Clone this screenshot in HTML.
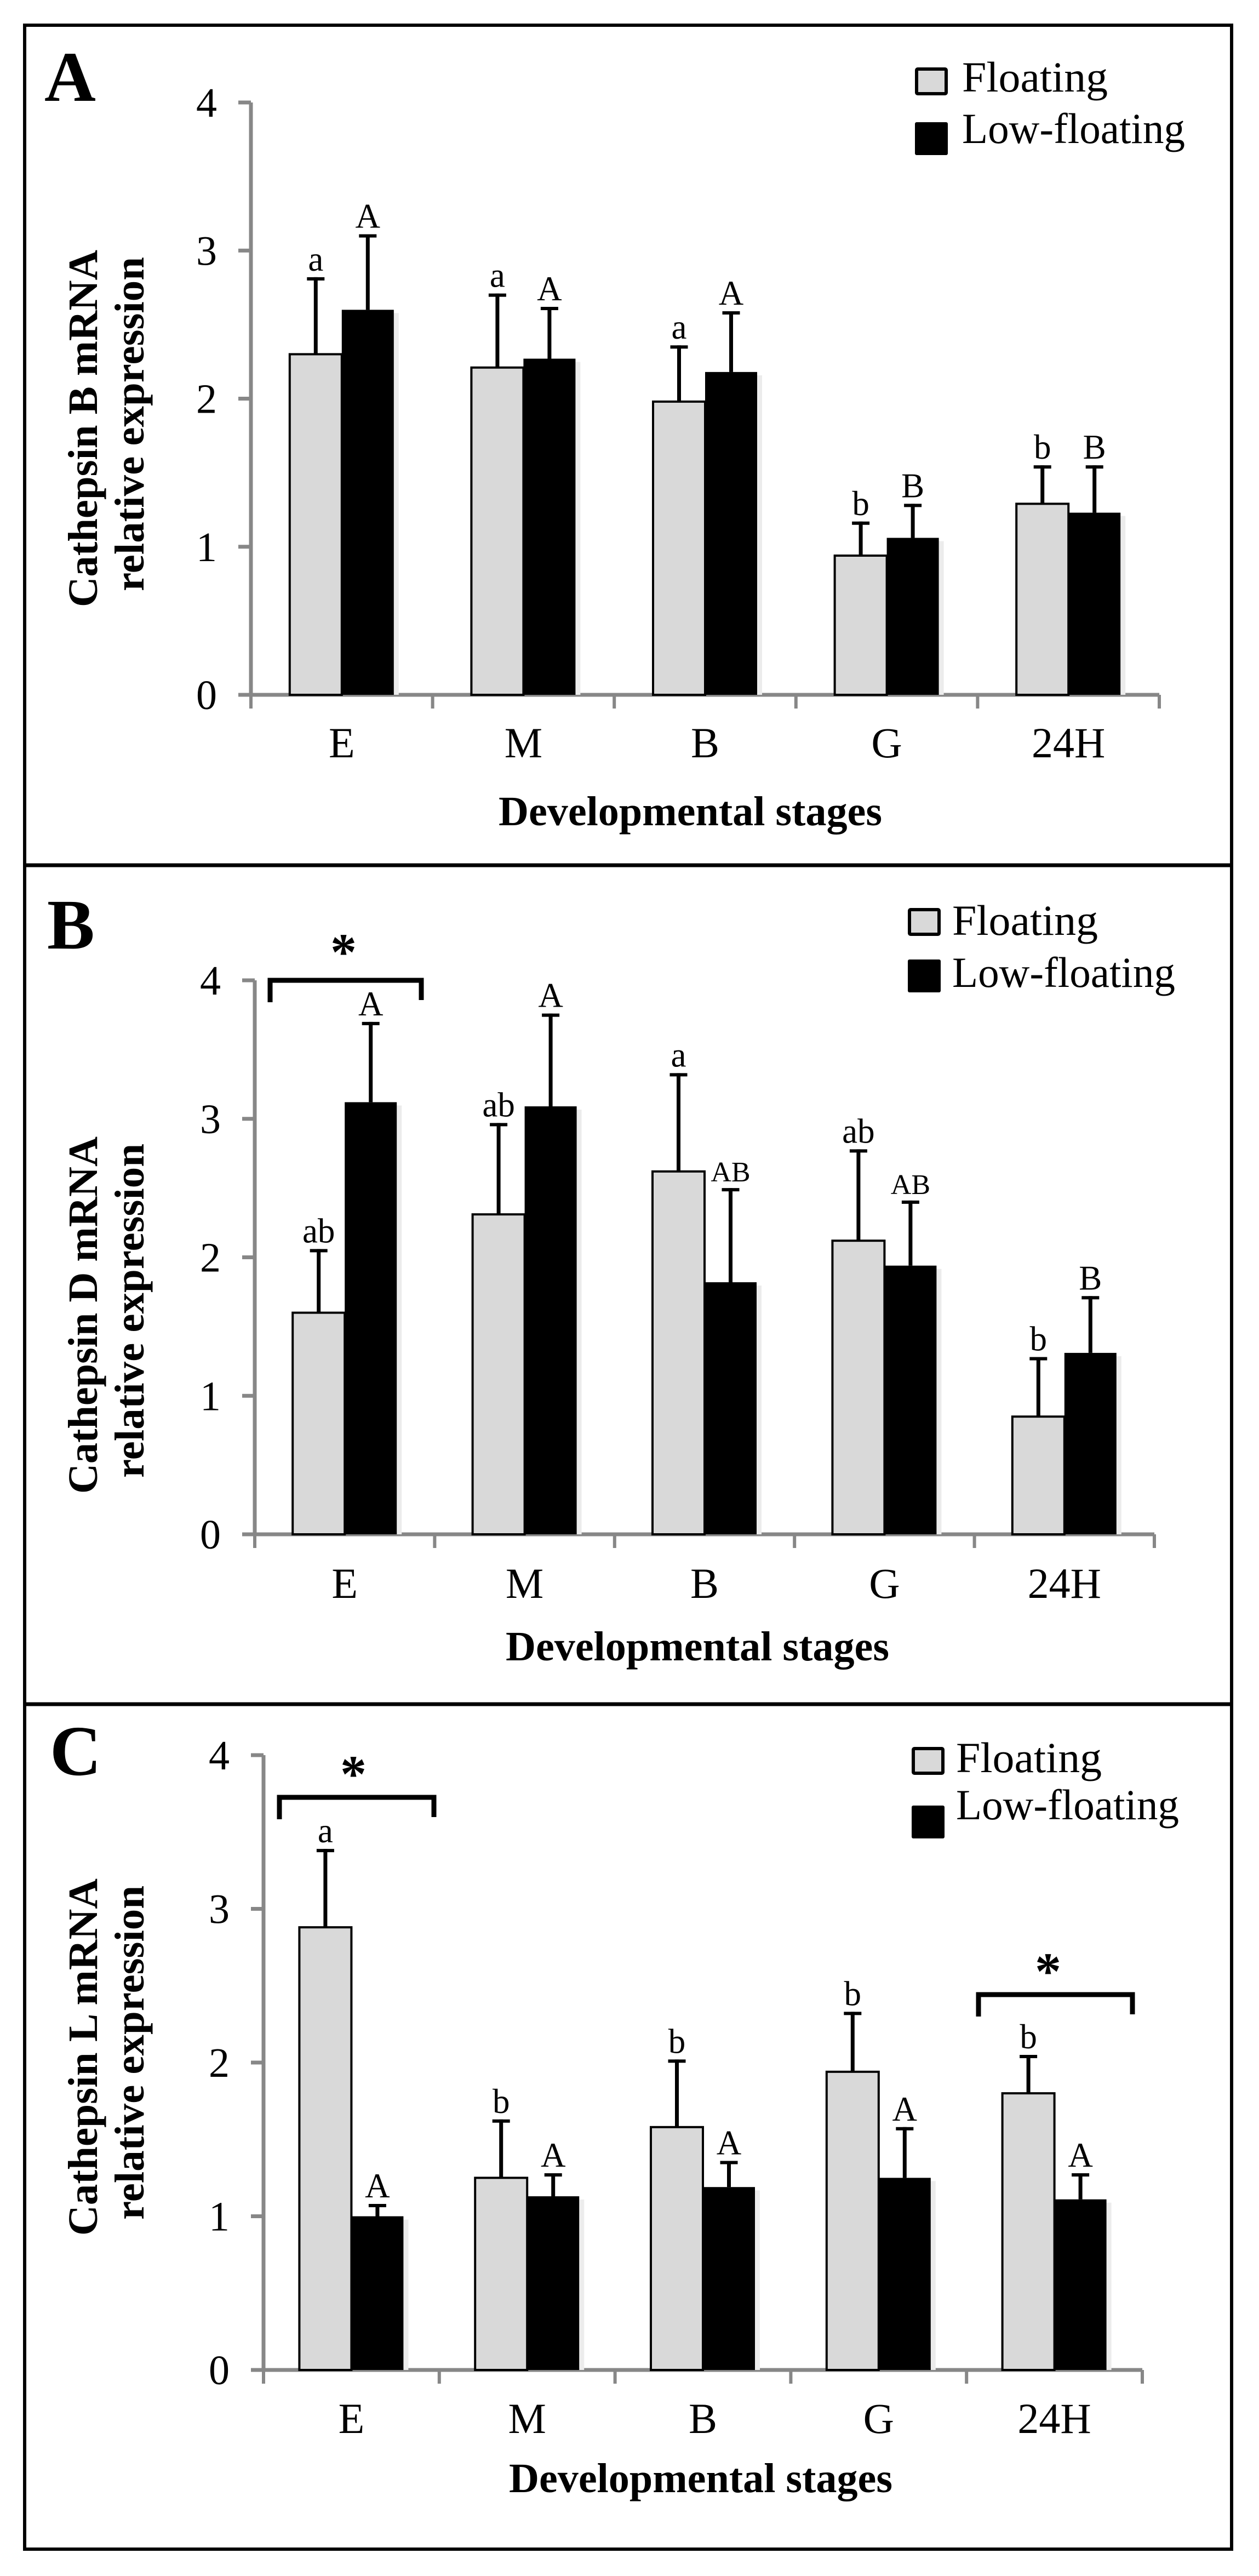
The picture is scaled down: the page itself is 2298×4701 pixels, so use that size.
<!DOCTYPE html>
<html><head><meta charset="utf-8"><style>
html,body{margin:0;padding:0;background:#fff}
svg text{font-family:"Liberation Serif",serif !important}
</style></head><body>
<svg id="fig" width="2298" height="4696" viewBox="0 0 2298 4696" xmlns="http://www.w3.org/2000/svg" font-family="Liberation Serif, serif">
<rect x="45" y="46" width="2203" height="4606" fill="none" stroke="#000" stroke-width="6"/>
<line x1="45" y1="1579" x2="2248" y2="1579" stroke="#000" stroke-width="7"/>
<line x1="45" y1="3110" x2="2248" y2="3110" stroke="#000" stroke-width="7"/>
</svg>
<script>
const categories = ["E","M","B","G","24H"];
const seriesNames = ["Floating","Low-floating"];
const yTicks = [0,1,2,3,4];
// Panel A: Cathepsin B
const aFloat = [2.30,2.21,1.98,0.94,1.29];
const aLow = [2.60,2.27,2.18,1.06,1.23];
const aFloatErr = [2.82,2.71,2.36,1.17,1.55];
const aLowErr = [3.11,2.62,2.59,1.29,1.55];
const aFloatLbl = ["a","a","a","b","b"];
const aLowLbl = ["A","A","A","B","B"];
// Panel B: Cathepsin D
const bFloat = [1.60,2.31,2.62,2.12,0.85];
const bLow = [3.12,3.09,1.82,1.94,1.31];
const bFloatErr = [2.06,2.97,3.33,2.78,1.28];
const bLowErr = [3.70,3.76,2.50,2.41,1.72];
const bFloatLbl = ["ab","ab","a","ab","b"];
const bLowLbl = ["A","A","AB","AB","B"];
// Panel C: Cathepsin L
const cFloat = [2.88,1.25,1.58,1.94,1.80];
const cLow = [1.00,1.13,1.19,1.25,1.11];
const cFloatErr = [3.39,1.63,2.02,2.33,2.05];
const cLowErr = [1.08,1.28,1.36,1.58,1.28];
const cFloatLbl = ["a","b","b","b","b"];
const cLowLbl = ["A","A","A","A","A"];

const NS="http://www.w3.org/2000/svg";
const svg=document.getElementById('fig');
function mk(tag,attrs,parent,txt){const e=document.createElementNS(NS,tag);for(const k in attrs)e.setAttribute(k,attrs[k]);if(tag==='text')e.setAttribute('font-family','Liberation Serif, serif');if(txt!==undefined)e.textContent=txt;(parent||svg).appendChild(e);return e;}

const panels=[
 {id:'a',letter:'A',gene:'Cathepsin B mRNA',ax:458,y0:1268,y4:187,xEnd:2116,lx:81,lb:184,
  leg:{bx:1670,fy:123,ky:223,tx:1756,fb:167,kb:261},xlb:1382,tb:1506,tc:1260,yc:782,
  f:aFloat,l:aLow,fe:aFloatErr,le:aLowErr,fl:aFloatLbl,ll:aLowLbl,br:[]},
 {id:'b',letter:'B',gene:'Cathepsin D mRNA',ax:465,y0:2800,y4:1789,xEnd:2107,lx:86,lb:1731,
  leg:{bx:1657,fy:1657,ky:1751,tx:1738,fb:1706,kb:1801},xlb:2916,tb:3030,tc:1273,yc:2400,
  f:bFloat,l:bLow,fe:bFloatErr,le:bLowErr,fl:bFloatLbl,ll:bLowLbl,
  br:[{x1:493,x2:769,y:1789,sx:627,sy:1770}]},
 {id:'c',letter:'C',gene:'Cathepsin L mRNA',ax:481,y0:4325,y4:3203,xEnd:2085,lx:91,lb:3239,
  leg:{bx:1664,fy:3188,ky:3295,tx:1745,fb:3234,kb:3320},xlb:4440,tb:4548,tc:1279,yc:3754,
  f:cFloat,l:cLow,fe:cFloatErr,le:cLowErr,fl:cFloatLbl,ll:cLowLbl,
  br:[{x1:510,x2:792,y:3280,sx:645,sy:3270},{x1:1786,x2:2067,y:3640,sx:1913,sy:3630}]}
];

panels.forEach(p=>{
  const g=mk('g',{});
  
  
  const yS=v=>p.y0-(p.y0-p.y4)*v/4;
  const cw=(p.xEnd-p.ax)/categories.length;
  const bw=95;
  const pl=mk('text',{x:p.lx,y:p.lb,'font-size':130,'font-weight':'bold'},g,p.letter);
  
  
  const ya=mk('line',{x1:p.ax,y1:p.y4,x2:p.ax,y2:p.y0,stroke:'#878787','stroke-width':7},g);
  
  
  yTicks.forEach(t=>{
    const y=yS(t);
    mk('line',{x1:p.ax-23,y1:y,x2:p.ax,y2:y,stroke:'#878787','stroke-width':7},g);
    const tl=mk('text',{x:p.ax-62,y:y+26,'font-size':76,'text-anchor':'end'},g,String(t));
    
    
  });
  const xa=mk('line',{x1:p.ax-3,y1:p.y0,x2:p.xEnd,y2:p.y0,stroke:'#878787','stroke-width':7},g);
  
  
  for(let i=0;i<=categories.length;i++){
    const x=p.ax+cw*i;
    mk('line',{x1:x,y1:p.y0,x2:x,y2:p.y0+25,stroke:'#878787','stroke-width':6},g);
  }
  categories.forEach((c,i)=>{
    const cx=p.ax+cw*(i+0.5);
    const xl=mk('text',{x:cx,y:p.xlb,'font-size':78,'text-anchor':'middle'},g,c);
    
    
    const fx=cx-bw, lx=cx;
    const fy=yS(p.f[i]);
    const fb=mk('rect',{x:fx,y:fy,width:bw,height:p.y0-fy,fill:'#d9d9d9',stroke:'#000','stroke-width':4},g);
    
    
    const ly=yS(p.l[i]);
    mk('rect',{x:lx+bw,y:ly+6,width:9,height:p.y0-ly-6,fill:'#ececec'},g);
    const lb=mk('rect',{x:lx,y:ly,width:bw,height:p.y0-ly,fill:'#000'},g);
    
    
    [[fx+bw/2,fy,yS(p.fe[i]),p.fl[i],'floating'],[lx+bw/2,ly,yS(p.le[i]),p.ll[i],'low-floating']].forEach(([ex,by,ey,lab,s])=>{
      const eg=mk('g',{},g);
      
      
      mk('line',{x1:ex,y1:by,x2:ex,y2:ey,stroke:'#000','stroke-width':7},eg);
      mk('line',{x1:ex-16,y1:ey+3,x2:ex+16,y2:ey+3,stroke:'#000','stroke-width':6},eg);
      const fs=(lab.length>1&&lab===lab.toUpperCase())?52:63;
      const st=mk('text',{x:ex,y:ey-12,'font-size':fs,'text-anchor':'middle'},g,lab);
      
      
    });
  });
  p.br.forEach(b=>{
    const bg=mk('g',{},g);
    
    
    mk('path',{d:`M${b.x1},${b.y+40} V${b.y} H${b.x2} V${b.y+36}`,fill:'none',stroke:'#000','stroke-width':9},bg);
    const star=mk('text',{x:b.sx,y:b.sy,'font-size':96,'font-weight':'bold','text-anchor':'middle'},bg,'*');
    
    
  });
  const L=p.leg;
  const lg=mk('g',{},g);
  
  
  mk('rect',{x:L.bx+3,y:L.fy+3,width:54,height:45,fill:'#d9d9d9',stroke:'#000','stroke-width':6,rx:2},lg);
  const t1=mk('text',{x:L.tx,y:L.fb,'font-size':78,textLength:266,lengthAdjust:'spacingAndGlyphs'},lg,seriesNames[0]);
  
  
  mk('rect',{x:L.bx,y:L.ky,width:60,height:60,fill:'#000',rx:3},lg);
  const t2=mk('text',{x:L.tx,y:L.kb,'font-size':78,textLength:407,lengthAdjust:'spacingAndGlyphs'},lg,seriesNames[1]);
  
  
  const xt=mk('text',{x:p.tc,y:p.tb,'font-size':76,'font-weight':'bold','text-anchor':'middle',textLength:700,lengthAdjust:'spacingAndGlyphs'},g,'Developmental stages');
  
  
  const yt1=mk('text',{x:0,y:0,'font-size':76,'font-weight':'bold','text-anchor':'middle',textLength:652,lengthAdjust:'spacingAndGlyphs',transform:`translate(177,${p.yc}) rotate(-90)`},g,p.gene);
  
  
  const yt2=mk('text',{x:0,y:0,'font-size':76,'font-weight':'bold','text-anchor':'middle',textLength:610,lengthAdjust:'spacingAndGlyphs',transform:`translate(262,${p.yc-8}) rotate(-90)`},g,'relative expression');
  
  
});
</script>
</body></html>
